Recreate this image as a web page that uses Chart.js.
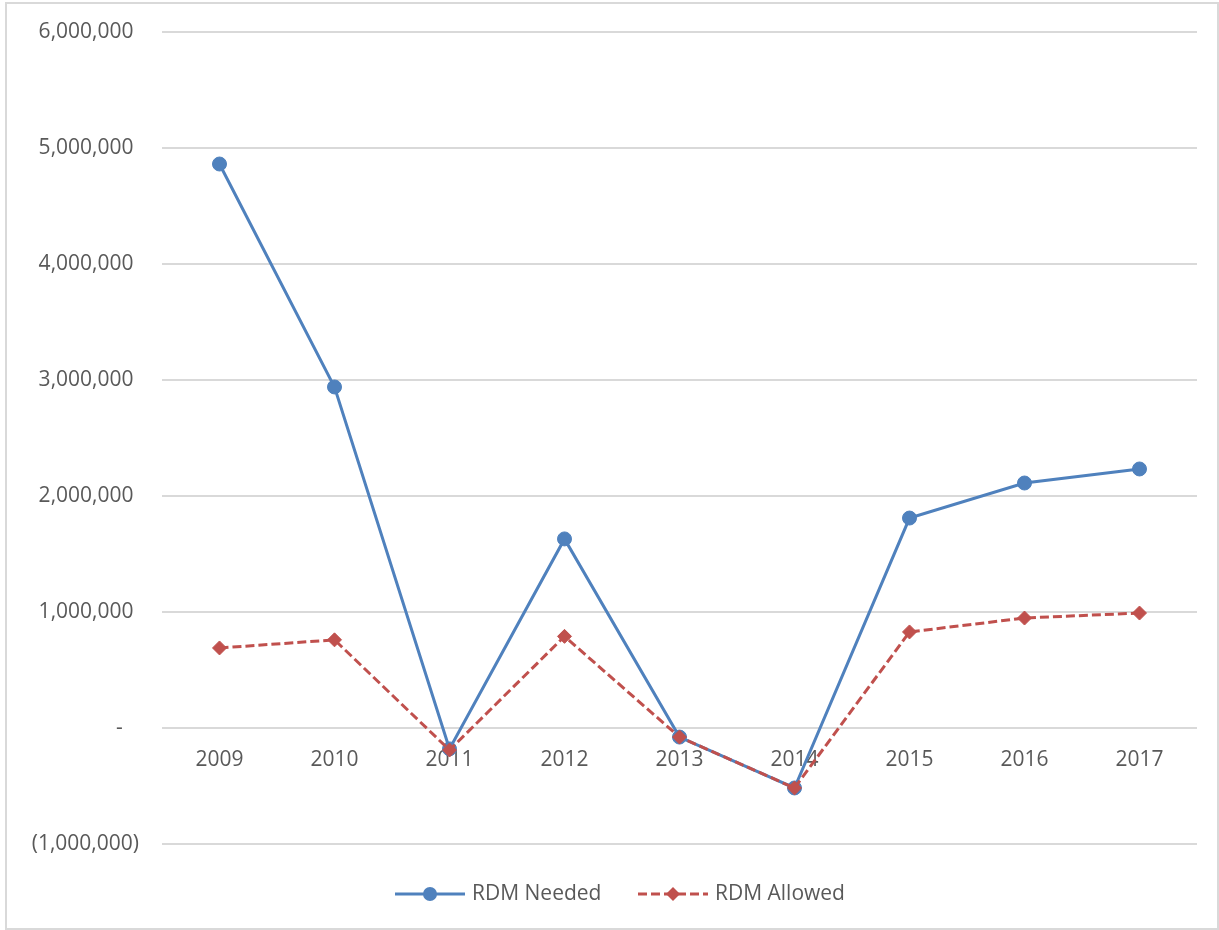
<!DOCTYPE html>
<html>
<head>
    <title>RDM Needed vs Allowed</title>
    <script src="https://cdn.jsdelivr.net/npm/chart.js"></script>
    <style>
        body {
            margin: 0;
            background: #ffffff;
        }
        #wrap {
            position: relative;
            width: 1219px;
            height: 930px;
        }
        #frame {
            position: absolute;
            left: 5px;
            top: 2px;
            width: 1210px;
            height: 924px;
            border: 2px solid #d9d9d9;
            pointer-events: none;
        }
        canvas {
            position: absolute;
            left: 0;
            top: 0;
        }
    </style>
</head>
<body>
    <div id="wrap">
        <canvas id="myChart" width="1219" height="930"></canvas>
        <div id="frame"></div>
    </div>

    <script>
        // values
        const years = ['2009', '2010', '2011', '2012', '2013', '2014', '2015', '2016', '2017'];
        const rdmNeeded = [4862000, 2940000, -180000, 1630000, -78000, -517000, 1810000, 2112000, 2233000];
        const rdmAllowed = [690000, 760000, -190000, 790000, -78000, -517000, 828000, 948000, 991000];

        const textColor = '#595959';
        const gridColor = '#d9d9d9';
        const blue = '#4f81bd';
        const red = '#c0504d';
        const fontSize = 21;

        function fmtTick(v) {
            if (v === 0) return '-   ';
            const s = Math.abs(v).toLocaleString('en-US');
            return v < 0 ? '(' + s + ')' : s + ' ';
        }

        // legend like the spreadsheet one: line with its marker, then the label
        const lineLegend = {
            id: 'lineLegend',
            afterDraw(chart) {
                const ctx = chart.ctx;
                const y = 894;
                const items = [
                    { x: 395, ds: chart.data.datasets[0] },
                    { x: 638, ds: chart.data.datasets[1] }
                ];
                ctx.save();
                items.forEach(it => {
                    const cx = it.x + 35;
                    const r = it.ds.pointRadius;
                    ctx.strokeStyle = it.ds.borderColor;
                    ctx.lineWidth = it.ds.borderWidth;
                    ctx.setLineDash(it.ds.borderDash || []);
                    ctx.beginPath();
                    ctx.moveTo(it.x, y);
                    ctx.lineTo(it.x + 70, y);
                    ctx.stroke();
                    ctx.setLineDash([]);
                    ctx.fillStyle = it.ds.pointBackgroundColor;
                    ctx.beginPath();
                    if (it.ds.pointStyle === 'circle') {
                        ctx.arc(cx, y, r, 0, Math.PI * 2);
                    } else {
                        ctx.moveTo(cx, y - r);
                        ctx.lineTo(cx + r, y);
                        ctx.lineTo(cx, y + r);
                        ctx.lineTo(cx - r, y);
                        ctx.closePath();
                    }
                    ctx.fill();
                    ctx.fillStyle = textColor;
                    ctx.font = fontSize + 'px "Open Sans", sans-serif';
                    ctx.textBaseline = 'middle';
                    ctx.textAlign = 'left';
                    ctx.fillText(it.ds.label, it.x + 77, y);
                });
                ctx.restore();
            }
        };

        const ctx = document.getElementById('myChart').getContext('2d');
        new Chart(ctx, {
            type: 'line',
            data: {
                labels: years,
                datasets: [{
                    label: 'RDM Needed',
                    data: rdmNeeded,
                    borderColor: blue,
                    backgroundColor: blue,
                    borderWidth: 3,
                    pointStyle: 'circle',
                    pointRadius: 7,
                    pointBackgroundColor: blue,
                    pointBorderColor: blue,
                    pointBorderWidth: 1,
                    tension: 0,
                    order: 2
                }, {
                    label: 'RDM Allowed',
                    data: rdmAllowed,
                    borderColor: red,
                    backgroundColor: red,
                    borderWidth: 3,
                    borderDash: [9, 4],
                    pointStyle: 'rectRot',
                    pointRadius: 7,
                    pointBackgroundColor: red,
                    pointBorderColor: red,
                    pointBorderWidth: 1,
                    tension: 0,
                    order: 1
                }]
            },
            options: {
                responsive: false,
                devicePixelRatio: 1,
                animation: false,
                layout: {
                    padding: { top: 32, right: 22, bottom: 86, left: 0 }
                },
                plugins: {
                    legend: { display: false },
                    tooltip: { enabled: false }
                },
                scales: {
                    x: {
                        position: { y: 0 },
                        offset: true,
                        afterFit(scale) {
                            scale.paddingTop = 0;
                            scale.paddingBottom = 0;
                        },
                        grid: { display: false, drawTicks: false },
                        border: { display: false },
                        ticks: {
                            color: textColor,
                            font: { family: 'Open Sans', size: fontSize },
                            padding: 19,
                            autoSkip: false,
                            maxRotation: 0
                        }
                    },
                    y: {
                        min: -1000000,
                        max: 6000000,
                        afterFit(scale) {
                            scale.width = 162;
                            scale.paddingTop = 0;
                            scale.paddingBottom = 0;
                        },
                        grid: { color: gridColor, lineWidth: 2, drawTicks: false },
                        border: { display: false },
                        ticks: {
                            stepSize: 1000000,
                            color: textColor,
                            font: { family: 'Open Sans', size: fontSize },
                            padding: 23,
                            callback: fmtTick
                        }
                    }
                }
            },
            plugins: [lineLegend]
        });
    </script>
</body>
</html>
